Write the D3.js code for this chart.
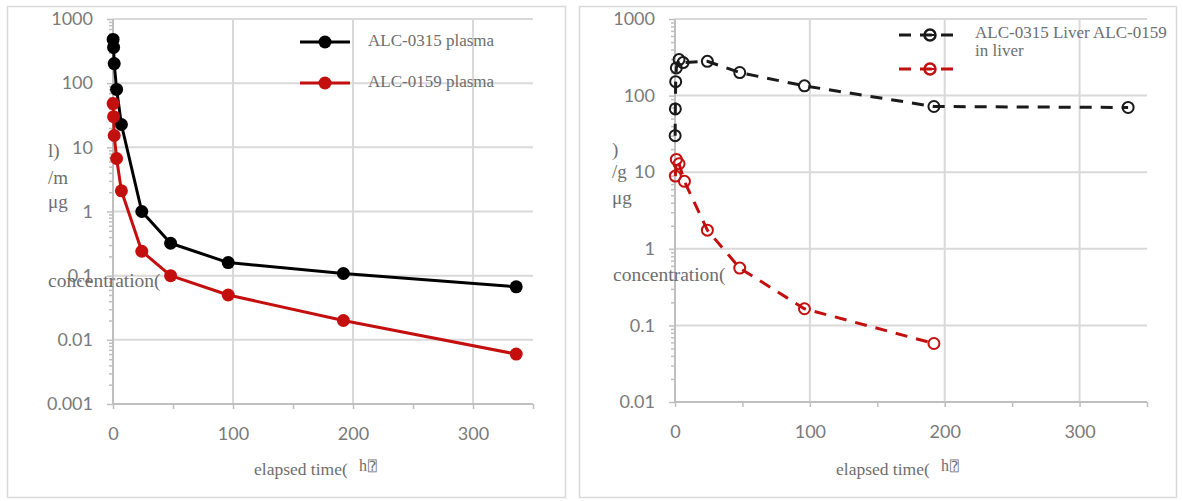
<!DOCTYPE html>
<html><head><meta charset="utf-8">
<script src="https://cdn.jsdelivr.net/npm/d3@7/dist/d3.min.js"></script>
<style>
html,body{margin:0;padding:0;background:#fff;}
svg{display:block;}
.tick text{font-family:Lato,"Open Sans",sans-serif;font-size:18px;fill:#7a7a7a;}
.ttl{font-family:"Liberation Serif","Times New Roman",serif;fill:#6e6e6e;}
</style>
</head><body>
<svg id="c" width="1183" height="501"></svg>
<script>
// ---- data ----
const plasmaTime = [0.1, 0.5, 1, 3, 7, 24, 48, 96, 192, 336];
const alc0315Plasma = [480, 360, 202, 80, 22.7, 1.0, 0.32, 0.16, 0.108, 0.067];
const alc0159Plasma = [48, 30, 15.3, 6.7, 2.1, 0.24, 0.1, 0.05, 0.02, 0.006];

const liver0315Time = [0.1, 0.25, 0.5, 1, 3, 6, 24, 48, 96, 192, 336];
const alc0315Liver = [30, 67, 152, 230, 295, 270, 280, 200, 134, 72, 70];
const liver0159Time = [0.25, 1, 3, 7, 24, 48, 96, 192];
const alc0159Liver = [8.9, 14.7, 12.9, 7.6, 1.75, 0.56, 0.165, 0.058];

const xTicks = [0, 100, 200, 300];
const xMinorTicks = [0, 50, 100, 150, 200, 250, 300, 350];
const yTicksLeft = [0.001, 0.01, 0.1, 1, 10, 100, 1000];
const yTicksRight = [0.01, 0.1, 1, 10, 100, 1000];
const yTickLabels = {0.001:"0.001",0.01:"0.01",0.1:"0.1",1:"1",10:"10",100:"100",1000:"1000"};
const legendLeft = ["ALC-0315 plasma", "ALC-0159 plasma"];
const legendRight = ["ALC-0315 Liver ALC-0159", "in liver"];

const BLACK = "#000000", RED = "#c40f0f";
const GRID = "#d9d9d9", AXIS = "#bfbfbf";

const svg = d3.select("#c");

// panel frames
svg.append("rect").attr("x",7.5).attr("y",6.5).attr("width",558).attr("height",491)
  .attr("fill","none").attr("stroke","#d9d9d9").attr("stroke-width",1.5);
svg.append("rect").attr("x",579.5).attr("y",6.5).attr("width",597).attr("height",491)
  .attr("fill","none").attr("stroke","#d9d9d9").attr("stroke-width",1.5);

function minorValues(domain){
  const out=[]; for(let e=Math.log10(domain[0]); e<Math.log10(domain[1]); e++){
    for(let k=2;k<=9;k++) out.push(k*Math.pow(10,e));
  } return out;
}

function panel(opt){
  const x = d3.scaleLinear().domain([0,350]).range([opt.x0, opt.x1]);
  const y = d3.scaleLog().domain(opt.yDomain).range([opt.yB, opt.yT]);
  const g = svg.append("g");
  // grid
  g.selectAll(".hg").data(opt.yTicks.slice(1)).join("line")
    .attr("x1",opt.x0).attr("x2",opt.x1).attr("y1",d=>y(d)).attr("y2",d=>y(d))
    .attr("stroke",GRID).attr("stroke-width",2);
  g.selectAll(".vg").data(xTicks.slice(1)).join("line")
    .attr("x1",d=>x(d)).attr("x2",d=>x(d)).attr("y1",opt.yT).attr("y2",opt.yB)
    .attr("stroke",GRID).attr("stroke-width",2);
  // axes
  const ya = g.append("g").attr("transform",`translate(${opt.x0},0)`)
    .call(d3.axisLeft(y).tickValues(opt.yTicks).tickSize(6).tickPadding(14).tickFormat(d=>yTickLabels[d]));
  const ym = g.append("g").attr("transform",`translate(${opt.x0},0)`)
    .call(d3.axisLeft(y).tickValues(minorValues(opt.yDomain)).tickSize(4).tickFormat(""));
  const xa = g.append("g").attr("transform",`translate(0,${opt.yB})`)
    .call(d3.axisBottom(x).tickValues(xTicks).tickSize(0).tickPadding(23).tickFormat(d3.format("d")));
  const xm = g.append("g").attr("transform",`translate(0,${opt.yB})`)
    .call(d3.axisBottom(x).tickValues(xMinorTicks).tickSize(5).tickFormat(""));
  [ya,ym,xa,xm].forEach(a=>{
    a.select(".domain").attr("stroke",AXIS).attr("stroke-width",2);
    a.selectAll(".tick line").attr("stroke",AXIS).attr("stroke-width",1.5);
  });
  ya.select(".domain").attr("d",`M0,${opt.yT}V${opt.yB}`);
  ym.select(".domain").remove();
  xa.select(".domain").attr("d",`M${opt.x0},0H${opt.x1}`);
  xm.select(".domain").remove();
  return {x,y,g};
}

// ---------- left panel ----------
const L = panel({x0:113, x1:533, yT:19, yB:404, yDomain:[0.001,1000], yTicks:yTicksLeft});
const lineL = d3.line().x(d=>L.x(d[0])).y(d=>L.y(d[1]));
[[alc0315Plasma,BLACK],[alc0159Plasma,RED]].forEach(([vals,col])=>{
  const pts = plasmaTime.map((t,i)=>[t,vals[i]]);
  L.g.append("path").datum(pts).attr("d",lineL).attr("fill","none")
    .attr("stroke",col).attr("stroke-width",3).attr("stroke-linejoin","round");
  L.g.selectAll(null).data(pts).join("circle").attr("cx",d=>L.x(d[0])).attr("cy",d=>L.y(d[1]))
    .attr("r",6.5).attr("fill",col);
});
// left legend
[[BLACK,42],[RED,83]].forEach(([col,ly],i)=>{
  svg.append("line").attr("x1",300).attr("x2",350).attr("y1",ly).attr("y2",ly)
    .attr("stroke",col).attr("stroke-width",3);
  svg.append("circle").attr("cx",325).attr("cy",ly).attr("r",6.5).attr("fill",col);
  svg.append("text").attr("class","ttl").attr("x",368).attr("y",ly+4)
    .attr("font-size",17).text(legendLeft[i]);
});
// left axis titles
[["l)",157],["/m",184],["μg",208]].forEach(([t,yy])=>{
  svg.append("text").attr("class","ttl").attr("x",48).attr("y",yy).attr("font-size",19).text(t);
});
svg.append("text").attr("class","ttl").attr("x",48).attr("y",287).attr("font-size",19.5).text("concentration(");
svg.append("text").attr("class","ttl").attr("x",254).attr("y",475).attr("font-size",17.5).text("elapsed time(");
svg.append("text").attr("class","ttl").attr("x",359).attr("y",471).attr("font-size",16).text("h");
svg.append("text").attr("x",368).attr("y",471).attr("font-size",14).attr("fill","#6e6e6e")
  .attr("font-family","'DejaVu Sans Mono','DejaVu Sans'").text("\u2370");

// ---------- right panel ----------
const R = panel({x0:675, x1:1147, yT:19, yB:402, yDomain:[0.01,1000], yTicks:yTicksRight});
const lineR = d3.line().x(d=>R.x(d[0])).y(d=>R.y(d[1]));
[[liver0315Time,alc0315Liver,"#1a1a1a"],[liver0159Time,alc0159Liver,RED]].forEach(([ts,vals,col])=>{
  const pts = ts.map((t,i)=>[t,vals[i]]);
  R.g.append("path").datum(pts).attr("d",lineR).attr("fill","none")
    .attr("stroke",col).attr("stroke-width",3).attr("stroke-dasharray","12,9");
  R.g.selectAll(null).data(pts).join("circle").attr("cx",d=>R.x(d[0])).attr("cy",d=>R.y(d[1]))
    .attr("r",5.5).attr("fill","none").attr("stroke",col).attr("stroke-width",2);
});
// right legend
[["#1a1a1a",35],[RED,69]].forEach(([col,ly])=>{
  svg.append("line").attr("x1",899).attr("x2",962).attr("y1",ly).attr("y2",ly)
    .attr("stroke",col).attr("stroke-width",3).attr("stroke-dasharray","12,9");
  svg.append("line").attr("x1",924).attr("x2",936).attr("y1",ly).attr("y2",ly)
    .attr("stroke",col).attr("stroke-width",2);
  svg.append("circle").attr("cx",930).attr("cy",ly).attr("r",5.5).attr("fill","none")
    .attr("stroke",col).attr("stroke-width",2.5);
});
svg.append("text").attr("class","ttl").attr("x",975).attr("y",38).attr("font-size",17).text(legendRight[0]);
svg.append("text").attr("class","ttl").attr("x",975).attr("y",56).attr("font-size",17).text(legendRight[1]);
// right axis titles
[[")",156],["/g",178],["μg",204]].forEach(([t,yy])=>{
  svg.append("text").attr("class","ttl").attr("x",612).attr("y",yy).attr("font-size",19).text(t);
});
svg.append("text").attr("class","ttl").attr("x",613).attr("y",281).attr("font-size",19.5).text("concentration(");
svg.append("text").attr("class","ttl").attr("x",836).attr("y",475).attr("font-size",17.5).text("elapsed time(");
svg.append("text").attr("class","ttl").attr("x",941).attr("y",471).attr("font-size",16).text("h");
svg.append("text").attr("x",950).attr("y",471).attr("font-size",14).attr("fill","#6e6e6e")
  .attr("font-family","'DejaVu Sans Mono','DejaVu Sans'").text("\u2370");
</script>
</body></html>
